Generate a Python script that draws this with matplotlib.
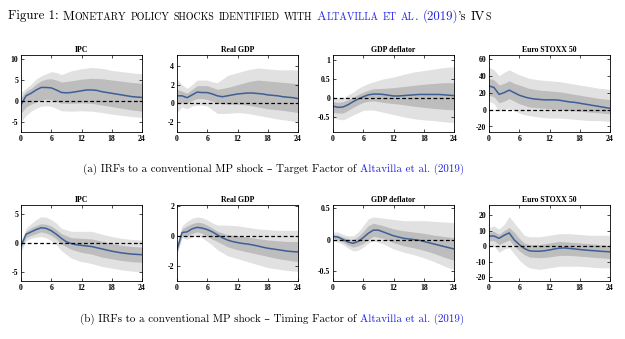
import matplotlib
matplotlib.use("Agg")
import matplotlib.pyplot as plt
from matplotlib.ticker import FuncFormatter

# horizons (months) for the median line and for the bands
horizon = list(range(25))
band_h = [0, 1, 2, 3, 4, 5, 6, 7, 8, 10, 12, 14, 16, 18, 20, 22, 24]

# ---- (a) Target factor ----
ipc_a_med = [-1.0, 1.2, 1.8, 2.6, 3.2, 3.2, 3.1, 2.6, 2.0, 1.9, 2.0, 2.2, 2.4,
             2.6, 2.6, 2.5, 2.2, 2.0, 1.8, 1.6, 1.4, 1.2, 1.0, 0.9, 0.8]
ipc_a_hi90 = [2, 3, 4, 5.2, 6, 6.5, 7, 6.8, 6.3, 7.2, 7.7, 8, 7.8, 7.3, 7, 6.7, 6.5]
ipc_a_hi68 = [0.8, 2.3, 3, 4, 4.8, 5.2, 5.3, 5, 4.5, 4.8, 5.2, 5.4, 5.3, 5, 4.7, 4.4, 4.2]
ipc_a_lo68 = [-3, -1.5, -0.8, -0.3, 0.2, 0.4, 0.3, -0.2, -0.6, -0.6, -0.5, -0.6, -1.0, -1.4, -1.8, -2.2, -2.5]
ipc_a_lo90 = [-5, -3.5, -2.5, -1.8, -1.3, -1.2, -1.3, -1.8, -2.4, -2.5, -2.4, -2.5, -2.8, -3.2, -3.5, -3.8, -4.0]

gdp_a_med = [0.8, 0.8, 0.6, 0.9, 1.2, 1.15, 1.15, 1.0, 0.8, 0.7, 0.8, 0.9, 1.0,
             1.05, 1.1, 1.1, 1.05, 1.0, 0.9, 0.85, 0.8, 0.7, 0.65, 0.6, 0.5]
gdp_a_hi90 = [2.6, 2.0, 1.6, 2.0, 2.5, 2.5, 2.5, 2.3, 2.2, 3.0, 3.3, 3.6, 3.8, 3.7, 3.6, 3.6, 3.6]
gdp_a_hi68 = [1.5, 1.3, 1.1, 1.5, 1.9, 1.9, 1.9, 1.7, 1.5, 1.7, 2.0, 2.3, 2.5, 2.4, 2.3, 2.2, 2.1]
gdp_a_lo68 = [-0.1, 0.1, 0.0, 0.3, 0.5, 0.5, 0.4, 0.2, 0.0, -0.1, -0.1, -0.2, -0.4, -0.6, -0.7, -0.85, -1.0]
gdp_a_lo90 = [-1.0, -0.4, -0.6, -0.3, -0.2, -0.2, -0.3, -0.7, -1.1, -1.1, -1.0, -1.1, -1.3, -1.5, -1.7, -1.85, -2.0]

defl_a_med = [-0.22, -0.25, -0.24, -0.18, -0.1, -0.03, 0.03, 0.08, 0.1, 0.1, 0.09, 0.07, 0.05,
              0.05, 0.06, 0.07, 0.08, 0.09, 0.09, 0.09, 0.09, 0.09, 0.08, 0.07, 0.06]
defl_a_hi90 = [-0.02, -0.02, 0.0, 0.08, 0.15, 0.25, 0.32, 0.38, 0.42, 0.5, 0.55, 0.62, 0.68, 0.72, 0.76, 0.8, 0.82]
defl_a_hi68 = [-0.1, -0.12, -0.1, -0.05, 0.02, 0.09, 0.15, 0.2, 0.24, 0.25, 0.27, 0.3, 0.33, 0.36, 0.38, 0.4, 0.4]
defl_a_lo68 = [-0.38, -0.4, -0.4, -0.33, -0.25, -0.18, -0.12, -0.09, -0.08, -0.12, -0.15, -0.18, -0.22, -0.25, -0.28, -0.3, -0.32]
defl_a_lo90 = [-0.52, -0.56, -0.58, -0.52, -0.45, -0.39, -0.33, -0.32, -0.32, -0.38, -0.44, -0.5, -0.55, -0.58, -0.6, -0.63, -0.65]

stoxx_a_med = [28, 26, 18, 20, 23, 20, 17, 15, 13.5, 12.5, 12, 11.5, 11.5,
               11.5, 11, 10, 9, 8.5, 7.5, 6.5, 5.5, 4.5, 3.5, 2.5, 1.5]
stoxx_a_hi90 = [50, 47, 40, 44, 47, 44, 41, 39, 37, 35, 34, 33, 31, 29, 27, 25, 24]
stoxx_a_hi68 = [37, 35, 29, 31, 34, 31, 29, 27, 25, 23, 22, 21, 19, 17, 15, 13, 12]
stoxx_a_lo68 = [17, 15, 8, 10, 13, 10, 7, 5, 3, 2, 1, 0, -1, -2, -3, -4, -5]
stoxx_a_lo90 = [10, 7, -2, 0, 2, -1, -4, -6, -7, -9, -10, -10, -11, -12, -13, -13, -14]

# ---- (b) Timing factor ----
ipc_b_med = [-0.5, 1.5, 1.9, 2.3, 2.6, 2.5, 2.1, 1.5, 0.8, 0.2, -0.1, -0.3, -0.4,
             -0.5, -0.6, -0.8, -1.0, -1.2, -1.4, -1.55, -1.7, -1.8, -1.9, -1.95, -2.0]
ipc_b_hi90 = [0.3, 2.5, 3.3, 4.0, 4.5, 4.4, 4.0, 3.4, 2.5, 2.0, 2.0, 2.0, 1.5, 1.1, 0.8, 0.6, 0.5]
ipc_b_hi68 = [-0.1, 2.0, 2.6, 3.0, 3.3, 3.2, 2.9, 2.3, 1.6, 0.9, 0.8, 0.7, 0.3, -0.1, -0.4, -0.6, -0.7]
ipc_b_lo68 = [-1.0, 0.9, 1.3, 1.6, 1.9, 1.7, 1.3, 0.7, -0.2, -1.1, -1.6, -1.9, -2.4, -2.7, -3.0, -3.2, -3.3]
ipc_b_lo90 = [-1.5, 0.4, 0.8, 1.0, 1.1, 0.9, 0.4, -0.3, -1.3, -2.6, -3.2, -3.5, -4.0, -4.3, -4.6, -4.8, -4.9]

gdp_b_med = [-0.9, 0.25, 0.3, 0.5, 0.6, 0.55, 0.45, 0.3, 0.1, -0.1, -0.25, -0.35, -0.42,
             -0.48, -0.52, -0.58, -0.65, -0.73, -0.8, -0.85, -0.9, -0.95, -1.0, -1.03, -1.05]
gdp_b_hi90 = [-0.5, 0.7, 1.0, 1.2, 1.3, 1.25, 1.1, 0.9, 0.75, 0.75, 0.7, 0.6, 0.5, 0.45, 0.4, 0.4, 0.4]
gdp_b_hi68 = [-0.7, 0.5, 0.7, 0.85, 0.95, 0.9, 0.75, 0.55, 0.35, 0.1, 0.05, -0.05, -0.15, -0.25, -0.3, -0.35, -0.35]
gdp_b_lo68 = [-1.1, 0.05, 0.0, 0.2, 0.3, 0.2, 0.0, -0.2, -0.35, -0.7, -0.9, -1.05, -1.2, -1.35, -1.5, -1.6, -1.7]
gdp_b_lo90 = [-1.2, -0.1, -0.2, -0.05, 0.05, -0.1, -0.35, -0.6, -0.9, -1.3, -1.5, -1.7, -1.9, -2.1, -2.2, -2.3, -2.35]

defl_b_med = [0.05, 0.04, 0.0, -0.04, -0.06, -0.03, 0.03, 0.1, 0.15, 0.15, 0.12, 0.09, 0.06,
              0.04, 0.02, 0.01, 0.0, -0.01, -0.03, -0.05, -0.07, -0.09, -0.11, -0.13, -0.15]
defl_b_hi90 = [0.12, 0.12, 0.08, 0.06, 0.06, 0.12, 0.22, 0.33, 0.36, 0.34, 0.32, 0.3, 0.3, 0.3, 0.29, 0.28, 0.27]
defl_b_hi68 = [0.08, 0.07, 0.04, 0.01, 0.0, 0.05, 0.13, 0.22, 0.26, 0.22, 0.17, 0.14, 0.12, 0.1, 0.07, 0.05, 0.03]
defl_b_lo68 = [0.02, 0.0, -0.04, -0.09, -0.12, -0.1, -0.06, 0.0, 0.05, 0.02, -0.05, -0.1, -0.13, -0.17, -0.22, -0.28, -0.33]
defl_b_lo90 = [-0.02, -0.04, -0.08, -0.14, -0.18, -0.17, -0.12, -0.06, -0.02, -0.07, -0.15, -0.2, -0.24, -0.29, -0.35, -0.42, -0.48]

stoxx_b_med = [6.5, 6.5, 5, 7, 8.5, 4, 1, -1.5, -3, -3.3, -3.3, -3, -2.5,
               -1.8, -1.3, -1.2, -1.5, -1.8, -2.2, -2.5, -2.8, -3.0, -3.3, -3.5, -3.7]
stoxx_b_hi90 = [12, 13, 11, 14, 19, 15, 11, 7, 6, 6, 7, 8, 8, 7.5, 7, 7, 7]
stoxx_b_hi68 = [9, 9.5, 7.5, 10, 12, 9, 5, 2, 1, 1, 2, 3, 2.5, 2, 1.5, 1, 0.5]
stoxx_b_lo68 = [3.5, 3.5, 1, 2.5, 4, 0, -3, -5.5, -7, -7.5, -7, -6, -6, -6.5, -7, -7.5, -8]
stoxx_b_lo90 = [1, 0, -4, -2, -1, -5, -9, -12, -14, -15, -14, -13, -13, -13, -13.5, -14, -14]

titles = ["IPC", "Real GDP", "GDP deflator", "Euro STOXX 50"]

top_row = [
    (ipc_a_med, ipc_a_lo90, ipc_a_lo68, ipc_a_hi68, ipc_a_hi90, (-7.5, 11), [-5, 0, 5, 10]),
    (gdp_a_med, gdp_a_lo90, gdp_a_lo68, gdp_a_hi68, gdp_a_hi90, (-3.1, 5.2), [-2, 0, 2, 4]),
    (defl_a_med, defl_a_lo90, defl_a_lo68, defl_a_hi68, defl_a_hi90, (-0.9, 1.13), [-0.5, 0, 0.5, 1]),
    (stoxx_a_med, stoxx_a_lo90, stoxx_a_lo68, stoxx_a_hi68, stoxx_a_hi90, (-26.5, 64.5), [-20, 0, 20, 40, 60]),
]
bottom_row = [
    (ipc_b_med, ipc_b_lo90, ipc_b_lo68, ipc_b_hi68, ipc_b_hi90, (-6.5, 6.5), [-5, 0, 5]),
    (gdp_b_med, gdp_b_lo90, gdp_b_lo68, gdp_b_hi68, gdp_b_hi90, (-3.0, 2.1), [-2, 0, 2]),
    (defl_b_med, defl_b_lo90, defl_b_lo68, defl_b_hi68, defl_b_hi90, (-0.66, 0.55), [-0.5, 0, 0.5]),
    (stoxx_b_med, stoxx_b_lo90, stoxx_b_lo68, stoxx_b_hi68, stoxx_b_hi90, (-22.5, 26.5), [-20, -10, 0, 10, 20]),
]

W, H = 625, 339
plt.rcParams["axes.unicode_minus"] = False
fig = plt.figure(figsize=(W / 100, H / 100), dpi=100)

tick_font = dict(family="Liberation Serif", weight="bold", size=5.6)
lefts = [21, 177, 333, 489]


def draw_panel(ax, title, med, lo90, lo68, hi68, hi90, ylim, yticks):
    ax.fill_between(band_h, lo90, hi90, color="#e1e1e1", lw=0)
    ax.fill_between(band_h, lo68, hi68, color="#bdbdbd", lw=0)
    ax.plot(horizon, med, color="#3d5f96", lw=1.1)
    ax.axhline(0, color="k", ls=(0, (3, 2)), lw=0.9)
    ax.set_xlim(0, 24)
    ax.set_ylim(*ylim)
    ax.set_xticks([0, 6, 12, 18, 24])
    ax.set_yticks(yticks)
    ax.yaxis.set_major_formatter(FuncFormatter(lambda v, p: "%g" % v))
    ax.tick_params(direction="in", length=2, width=0.5, top=True, right=True, pad=2)
    for lab in ax.get_xticklabels() + ax.get_yticklabels():
        lab.set(**tick_font)
    for sp in ax.spines.values():
        sp.set_linewidth(0.6)
    ax.set_title(title, fontdict=tick_font, pad=2)


for row, (bottom_px, height_px) in zip([top_row, bottom_row], [(132, 77), (281, 76)]):
    for i, spec in enumerate(row):
        ax = fig.add_axes([lefts[i] / W, 1 - bottom_px / H, 121 / W, height_px / H])
        draw_panel(ax, titles[i], *spec)

# ---- title and captions, built from runs of text ----
serif = ["cmr10", "DejaVu Serif"]
blue = "#2424e0"
renderer = fig.canvas.get_renderer()


def space(size):
    return size * 100 / 72 * 0.333


def smallcaps(phrase, big, small, color):
    runs = []
    for word in phrase.split(" "):
        pieces = []
        for ch in word:
            low = ch.islower()
            if pieces and pieces[-1][1] == low:
                pieces[-1][0] += ch
            else:
                pieces.append([ch, low])
        for j, (txt, low) in enumerate(pieces):
            gap = space(big) if j == len(pieces) - 1 else 0
            runs.append((txt.upper(), small if low else big, color, gap))
    return runs


def put_runs(runs, x, y, center=False):
    texts = []
    for s, size, color, gap in runs:
        t = fig.text(0, y / H, s, fontsize=size, color=color, family=serif,
                     va="baseline", ha="left")
        texts.append((t, gap))
    widths = [t.get_window_extent(renderer).width for t, _ in texts]
    total = sum(widths) + sum(g for _, g in texts[:-1])
    if center:
        x = x - total / 2
    for (t, g), w in zip(texts, widths):
        t.set_x(x / W)
        x += w + g


big, small = 9.3, 7.2
title_runs = [("Figure 1:", big, "k", space(big))]
title_runs += smallcaps("Monetary policy shocks identified with", big, small, "k")
title_runs += smallcaps("Altavilla et al.", big, small, blue)
title_runs += [("(2019)", big, blue, 0), ("'s", big, "k", space(big))]
title_runs += smallcaps("IVs", big, small, "k")
put_runs(title_runs, 8, H - 19.5)

cap = 7.95
put_runs([("(a) IRFs to a conventional MP shock \u2013 Target Factor of", cap, "k", space(cap)),
          ("Altavilla et al. (2019)", cap, blue, 0)], 273.5, H - 172, center=True)
put_runs([("(b) IRFs to a conventional MP shock \u2013 Timing Factor of", cap, "k", space(cap)),
          ("Altavilla et al. (2019)", cap, blue, 0)], 272.5, H - 321.5, center=True)

fig.savefig("out.png", dpi=100)
